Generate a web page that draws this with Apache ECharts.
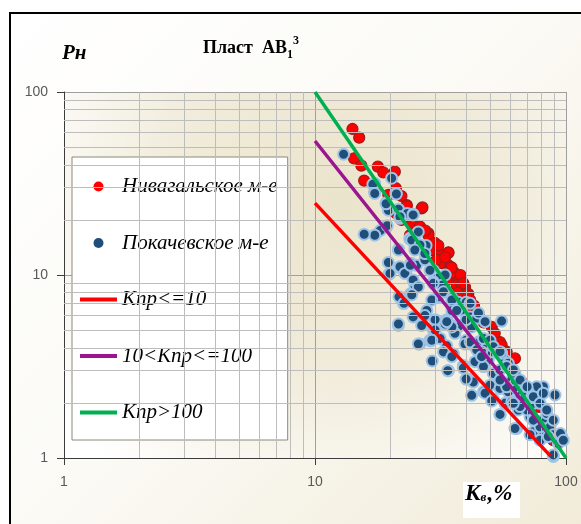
<!DOCTYPE html>
<html><head><meta charset="utf-8">
<script src="https://cdn.jsdelivr.net/npm/echarts@6/dist/echarts.min.js"></script>
<style>html,body{margin:0;padding:0;background:#fff}#c{width:581px;height:524px}</style>
</head><body><div id="c"></div>
<script>
// ---- data (Kv %, Pn) ----
var nivData = [
[14.1,62.8],[15.0,56.3],[14.3,43.4],[15.3,39.6],[17.8,39.1],[18.7,36.4],[20.8,36.7],[15.7,32.8],[21.0,29.8],[17.3,28.5],
[19.6,27.4],[22.1,27.0],[23.2,24.1],[26.6,23.1],[24.3,19.2],[26.2,18.4],[28.3,16.9],[22.1,20.0],[24.3,16.3],[28.3,16.5],
[29.2,13.7],[34.0,13.3],[32.0,12.9],[32.5,11.8],[34.0,11.3],[35.6,10.4],[36.7,9.8],[26.8,23.4],[23.2,23.8],[21.1,21.7],
[23.9,16.5],[29.6,13.7],[31.5,13.1],[34.0,13.2],[32.0,11.6],[34.5,11.1],[36.1,10.2],[37.8,9.4],[36.7,8.8],[39.6,8.6],
[40.8,7.9],[41.5,7.3],[42.7,6.4],[35.6,6.9],[30.5,12.1],[33.5,9.4],[38.4,8.8],[40.0,7.8],[50.6,5.2],[54.6,4.3],
[62.6,3.5],[89.0,1.25],[83.8,1.36],[66.6,2.6],[83.8,1.61],[86.4,1.34],[55.4,4.14],[58.0,3.81],[27.5,17.5],[30.0,15.0],
[31.0,14.5],[33.0,12.5],[35.0,11.0],[38.0,10.0],[39.0,9.0],[37.0,8.0],[43.0,6.8],[45.0,6.0],[47.0,5.5],[52.0,4.8],
[70.0,2.4],[75.0,2.1],[78.0,1.9]
];
var pokData = [
[13.0,45.7],[20.2,33.8],[17.3,31.7],[21.0,27.9],[19.2,24.8],[19.6,22.6],[21.5,22.9],[23.3,21.7],[24.6,21.5],[21.8,20.4],
[19.3,18.4],[18.2,17.5],[17.3,16.5],[15.7,16.7],[25.8,17.2],[23.9,15.9],[21.5,13.8],[19.6,11.7],[19.7,10.1],[21.8,11.0],
[23.0,10.3],[24.1,11.6],[25.4,11.3],[27.4,12.1],[25.0,14.5],[23.9,15.7],[25.4,14.9],[27.7,14.5],[29.6,10.6],[33.0,10.0],
[30.5,9.6],[17.0,31.3],[17.3,27.9],[19.2,24.5],[21.1,27.7],[21.8,20.8],[24.6,21.3],[19.4,18.6],
[24.3,15.5],[26.2,14.6],[25.0,13.7],[27.4,13.1],[21.5,13.7],[19.9,10.2],[21.8,11.1],[22.8,10.2],[24.0,11.3],[28.7,10.6],
[29.6,9.2],[32.0,8.8],[31.0,7.6],[29.2,7.3],[32.5,8.1],[35.1,7.5],[37.2,7.1],[40.0,7.1],[38.4,6.4],[41.5,5.9],
[44.1,5.8],[22.1,7.5],[24.0,7.9],[25.0,8.8],[24.6,9.4],[25.8,8.6],[22.5,7.0],[24.6,5.9],[27.9,6.4],[27.4,6.0],
[26.6,5.3],[21.5,5.3],[30.1,5.7],[29.6,5.0],[33.5,5.7],[35.1,5.3],[37.2,5.2],[31.5,4.5],[26.2,4.2],[28.7,4.4],
[33.5,4.1],[40.0,4.4],[41.5,4.2],[44.8,4.3],[46.9,4.0],[36.1,4.8],[35.1,6.4],
[34.0,3.0],[32.5,3.8],[35.6,3.7],[39.6,4.2],[39.0,3.2],[40.8,2.7],[42.7,2.6],[42.1,2.2],[46.9,2.3],[49.8,2.5],
[51.3,2.1],[54.6,1.72],[57.1,1.99],[58.9,2.3],[60.8,2.03],[64.6,1.83],[65.6,2.21],[68.7,1.99],[71.9,1.68],[63.6,1.45],
[76.4,1.48],[78.8,1.36],[81.2,1.61],[86.4,1.48],[90.4,2.21],[89.0,1.34],[93.2,1.2],[96.1,1.31],[89.0,1.02],[74.1,1.99],
[78.8,2.26],[81.2,2.45],[76.4,2.45],[66.6,2.56],[62.6,2.45],[60.8,2.67],[54.6,2.4],[51.3,2.9],[54.6,3.03],[59.8,3.09],
[57.1,3.43],[62.6,2.9],[49.0,3.43],[50.6,3.81],[53.7,3.74],[48.3,4.14],[44.1,4.24],[46.1,3.81],[43.4,3.36],[46.9,3.16],
[35.1,5.2],[33.0,5.4],[42.1,5.2],[46.9,4.5],[55.4,3.74],[58.9,3.29],[70.8,2.3],[68.7,2.16],[72.9,2.16],[83.8,1.75],
[74.1,1.39],
[21.5,5.4],[25.8,4.2],[29.3,3.39],[33.8,3.0],[54.6,1.73],[24.3,7.8],[21.6,7.6],[22.6,7.0],[39.0,3.1],[47.6,2.26],
[50.6,2.05],[62.6,1.45],[71.9,1.34],[89.0,1.04],[55.4,5.6],[40.0,2.7],[29.6,9.0],[35.1,7.3],[36.7,6.4],[41.5,7.0],
[44.8,6.2],[47.6,5.56],[40.0,5.7],[41.5,4.3],[44.1,3.9],[46.1,3.58],[49.8,4.4],[51.3,4.06],[54.6,3.81],[58.0,3.16],
[61.7,3.03],[65.6,2.67],[70.0,2.45],[74.1,2.16],[78.8,1.99],[83.8,1.83],[89.0,1.61],[95.0,1.36],[78.8,1.48],[74.1,1.61],
[70.0,1.83],[65.6,1.91],[61.7,1.99],[58.0,2.45],[54.6,2.67],[81.2,2.26],[78.8,1.25],[85.0,1.31],[97.6,1.25],[35.1,3.58],
[28.9,4.36],[30.1,5.0],[33.5,5.56],[29.2,4.4]
];
var lineLow = [[10,24.7],[86.4,1.03]];     // Кпр<=10
var lineMid = [[10,54],[95,1.12]];         // 10<Кпр<=100
var lineHigh = [[10,100],[100,1]];         // Кпр>100
var minorTicks = [2,3,4,5,6,7,8,9,20,30,40,50,60,70,80,90];
var seriesNames = ['Нивагальское м-е','Покачевское м-е','Кпр<=10','10<Кпр<=100','Кпр>100'];

var minorLines = [];
minorTicks.forEach(function(v){
  minorLines.push([{coord:[v,1]},{coord:[v,100]}]);
  minorLines.push([{coord:[1,v]},{coord:[100,v]}]);
});
var yMinorTicks = [];
minorTicks.forEach(function(v){ yMinorTicks.push([{coord:[0.955,v]},{coord:[1,v]}]); });

var lineIcon = 'path://M0,0L37,0L37,4L0,4Z';
var chart = echarts.init(document.getElementById('c'));
var serif = 'Liberation Serif';
chart.setOption({
  backgroundColor: '#ffffff',
  animation: false,
  graphic: [
    {type:'rect', z:-10, shape:{x:10,y:13,width:600,height:600},
     style:{fill:new echarts.graphic.LinearGradient(0,0,1,1,[{offset:0,color:'#ffffff'},{offset:0.45,color:'#fbfaf5'},{offset:1,color:'#efe8d2'}]), stroke:'#000', lineWidth:2}},
    {type:'text', left:62, top:43, z:10, style:{text:'Рн', font:'italic bold 21px "Liberation Serif"', fill:'#000'}},
    {type:'rect', z:10, shape:{x:463,y:482,width:57,height:36}, style:{fill:'#ffffff'}},
    {type:'text', left:465, top:483, z:11, style:{text:'{a|К}{b|в}{a|,%}', rich:{
      a:{font:'italic bold 23px "Liberation Serif"', fill:'#000', lineHeight:30, verticalAlign:'middle'},
      b:{font:'italic bold 13px "Liberation Serif"', fill:'#000', lineHeight:30, verticalAlign:'bottom', padding:[0,1,5,0]}}}}
  ],
  title: {
    text: '{a|Пласт  АВ}{b|1}{c|3}',
    left: 203, top: 35, padding: 0,
    textStyle: { rich: {
      a:{fontFamily:serif, fontWeight:'bold', fontSize:18, color:'#000', lineHeight:26, verticalAlign:'middle'},
      b:{fontFamily:serif, fontWeight:'bold', fontSize:12, color:'#000', lineHeight:26, verticalAlign:'bottom'},
      c:{fontFamily:serif, fontWeight:'bold', fontSize:12, color:'#000', lineHeight:26, verticalAlign:'top'}
    }}
  },
  legend: {
    orient:'vertical', left:72, top:157,
    backgroundColor:'#ffffff', borderColor:'#8a8a7a', borderWidth:1,
    padding:[19,10,17,8], itemGap:35.5, itemWidth:37, itemHeight:10,
    textStyle:{fontFamily:serif, fontStyle:'italic', fontSize:21, color:'#000', lineHeight:20},
    data:[
      {name:seriesNames[0], icon:'circle', itemStyle:{color:'#ff0000', borderWidth:0}},
      {name:seriesNames[1], icon:'circle', itemStyle:{color:'#1f4e79', borderWidth:0}},
      {name:seriesNames[2], icon:lineIcon, itemStyle:{color:'#ff0000', borderWidth:0}},
      {name:seriesNames[3], icon:lineIcon, itemStyle:{color:'#9b1590', borderWidth:0}},
      {name:seriesNames[4], icon:lineIcon, itemStyle:{color:'#00b050', borderWidth:0}}
    ]
  },
  grid: {left:64, top:92, width:502, height:366, show:true, borderWidth:0,
    backgroundColor: new echarts.graphic.RadialGradient(0.55,0.3,0.95,[{offset:0,color:'#ebe4cc'},{offset:0.5,color:'#f1ecdb'},{offset:1,color:'#ffffff'}])},
  xAxis: {type:'log', logBase:10, min:1, max:100,
    axisLine:{show:true, onZero:false, lineStyle:{color:'#3c3c3c', width:1}},
    axisTick:{show:true, length:7, lineStyle:{color:'#3c3c3c'}},
    axisLabel:{margin:17, color:'#595959', fontSize:14, fontFamily:'Liberation Sans'},
    splitLine:{show:true, lineStyle:{color:'#9f9f9f', width:1}}
  },
  yAxis: {type:'log', logBase:10, min:1, max:100,
    axisLine:{show:true, onZero:false, lineStyle:{color:'#3c3c3c', width:1}},
    axisTick:{show:true, length:7, lineStyle:{color:'#3c3c3c'}},
    axisLabel:{margin:16, color:'#595959', fontSize:14, fontFamily:'Liberation Sans'},
    splitLine:{show:true, lineStyle:{color:'#9f9f9f', width:1}}
  },
  series: [
    {type:'line', name:'_grid', data:[], z:1, silent:true,
     markLine:{silent:true, symbol:['none','none'], label:{show:false}, animation:false,
       lineStyle:{type:'solid', color:'#bdbdbd', width:1}, data:minorLines}},
    {type:'line', name:'_ticks', data:[], z:1, silent:true,
     markLine:{silent:true, symbol:['none','none'], label:{show:false}, animation:false,
       lineStyle:{type:'solid', color:'#3c3c3c', width:1}, data:yMinorTicks}},
    {type:'scatter', name:seriesNames[0], data:nivData, symbolSize:11, z:3,
     itemStyle:{color:'#ff0000', borderColor:'#a11a1a', borderWidth:1.2, opacity:1}},
    {type:'scatter', name:seriesNames[1], data:pokData, symbolSize:11, z:4,
     itemStyle:{color:'#1f4e79', borderColor:'#9dc3e6', borderWidth:2, opacity:1}},
    {type:'line', name:seriesNames[2], data:lineLow, symbol:'none', z:5, lineStyle:{color:'#ff0000', width:3.5}, itemStyle:{color:'#ff0000'}},
    {type:'line', name:seriesNames[3], data:lineMid, symbol:'none', z:5, lineStyle:{color:'#9b1590', width:3.5}, itemStyle:{color:'#9b1590'}},
    {type:'line', name:seriesNames[4], data:lineHigh, symbol:'none', z:5, lineStyle:{color:'#00b050', width:3.5}, itemStyle:{color:'#00b050'}}
  ]
});
</script></body></html>
